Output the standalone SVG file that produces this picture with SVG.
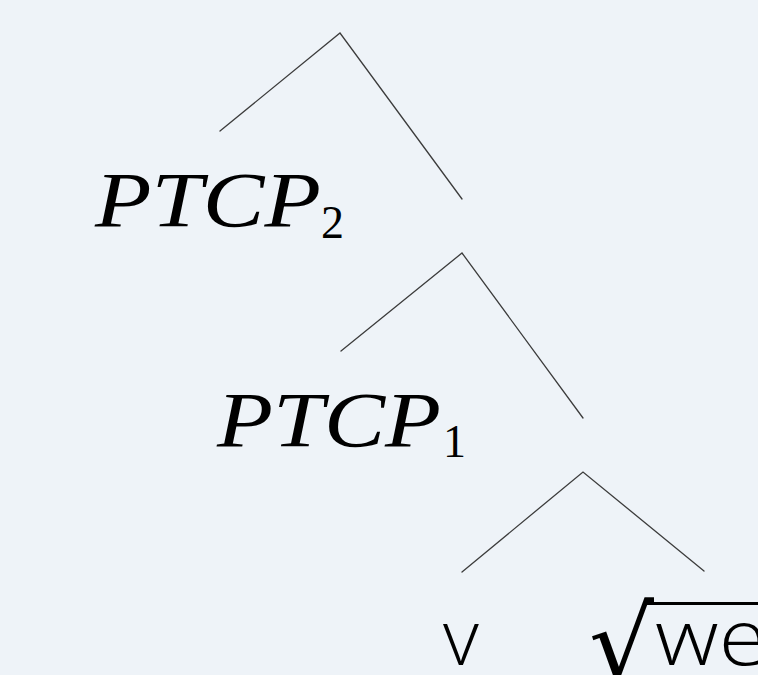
<svg xmlns="http://www.w3.org/2000/svg" width="758" height="675" viewBox="0 0 758 675">
  <style>
    .edge { stroke: #3c3c3c; stroke-width: 1.3; fill: none; stroke-linecap: round; }
    .cat { font-family: "Liberation Serif", "DejaVu Serif", serif; font-style: italic; fill: #000; }
    .sub { font-family: "Liberation Serif", "DejaVu Serif", serif; fill: #000; }
    .leaf { font-family: "Open Sans", "Lato", sans-serif; font-weight: 300; fill: #000; }
  </style>
  <rect width="758" height="675" fill="#eef3f8"/>

  <g id="connectors">
    <polyline class="edge" points="220,131 340,33 462,199"/>
    <polyline class="edge" points="341,351 462,253 583,418"/>
    <polyline class="edge" points="462,572 583,472 704,571"/>
  </g>

  <g id="ptcp2">
    <text class="cat" x="95" y="226" font-size="79" textLength="226" lengthAdjust="spacingAndGlyphs">PTCP</text>
    <text class="sub" x="321" y="238" font-size="46">2</text>
  </g>

  <g id="ptcp1">
    <text class="cat" x="217" y="446" font-size="79" textLength="224" lengthAdjust="spacingAndGlyphs">PTCP</text>
    <text class="sub" x="443" y="457" font-size="46">1</text>
  </g>

  <g id="leaf-v">
    <text class="leaf" x="443" y="665" font-size="78">v</text>
  </g>

  <g id="leaf-root">
    <text x="589" y="680" font-family="DejaVu Serif, serif" font-size="102" fill="#000">√</text>
    <rect x="647" y="602" width="115" height="3" fill="#000"/>
    <text class="leaf" x="655" y="665" font-size="78" textLength="112" lengthAdjust="spacingAndGlyphs">we</text>
  </g>
</svg>
